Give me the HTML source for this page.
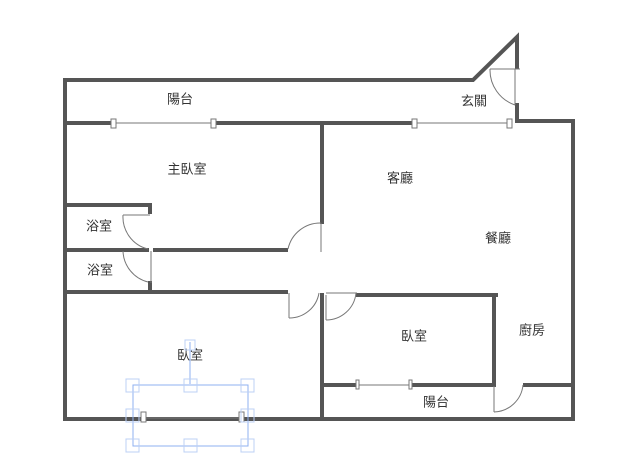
<!DOCTYPE html>
<html><head><meta charset="utf-8"><style>
html,body{margin:0;padding:0;background:#fff;}
svg{display:block}
text{font-family:"Liberation Sans","Noto Sans CJK TC",sans-serif;font-size:13px;fill:#333;text-anchor:middle;dominant-baseline:middle}
</style></head><body>
<svg width="640" height="461" viewBox="0 0 640 461">
<g stroke="#555" stroke-width="4" fill="none" stroke-linecap="square">
<!-- outer -->
<polyline points="65,419 65,80 473,80 517,37 517,67"/>
<polyline points="517,105 517,121 573,121 573,419 65,419"/>
<!-- balcony divider -->
<line x1="69" y1="123" x2="113" y2="123"/>
<line x1="215" y1="123" x2="413" y2="123"/>
<!-- vertical center -->
<line x1="322" y1="123" x2="322" y2="222"/>
<line x1="322" y1="295" x2="322" y2="419"/>
<!-- baths -->
<polyline points="65,205 150,205 150,212"/>
<line x1="65" y1="250" x2="147" y2="250"/>
<line x1="155" y1="250" x2="286" y2="250"/>
<line x1="65" y1="292" x2="286" y2="292"/>
<line x1="150" y1="283" x2="150" y2="292"/>
<!-- bedroom2 -->
<line x1="358" y1="295" x2="496" y2="295"/>
<line x1="494" y1="295" x2="494" y2="385"/>
<line x1="322" y1="385" x2="356" y2="385"/>
<line x1="412" y1="385" x2="492" y2="385"/>
<line x1="525" y1="385" x2="573" y2="385"/>
</g>
<g stroke="#777" stroke-width="1" fill="#fff">
<!-- windows -->
<line x1="113" y1="123" x2="215" y2="123"/>
<rect x="111" y="119" width="5" height="9"/><rect x="211" y="119" width="5" height="9"/>
<line x1="413" y1="123" x2="512" y2="123"/>
<rect x="412" y="119" width="5" height="9"/><rect x="507" y="119" width="5" height="9"/>
<line x1="356" y1="385" x2="412" y2="385"/>
<rect x="356" y="380" width="3" height="9"/><rect x="409" y="380" width="3" height="9"/>
<line x1="143" y1="418" x2="243" y2="418"/>
<rect x="141" y="412" width="5" height="10"/><rect x="239" y="412" width="5" height="10"/>
<!-- doors -->
<g fill="none">
<path d="M490,69 A37,37 0 0 0 515,105"/><line x1="490" y1="69" x2="520" y2="69"/><line x1="515" y1="69" x2="515" y2="105"/>
<path d="M288,249 A33,33 0 0 1 321,223"/><line x1="321" y1="223" x2="321" y2="252"/>
<path d="M123,215 A33,33 0 0 0 148,249"/><line x1="123" y1="215" x2="150" y2="215"/>
<path d="M123,251 A33,33 0 0 0 148,282"/><line x1="151" y1="251" x2="151" y2="283"/>
<path d="M289,318 A30,30 0 0 0 319,293"/><line x1="289" y1="293" x2="289" y2="318"/>
<path d="M326,320 A30,30 0 0 0 356,293"/><line x1="326" y1="295" x2="326" y2="320"/><line x1="326" y1="293" x2="357" y2="293"/>
<path d="M494,412 A30,30 0 0 0 523,385"/><line x1="494" y1="386" x2="494" y2="412"/>
</g>
</g>
<g>
<text x="180" y="100">陽台</text>
<text x="474" y="102">玄關</text>
<text x="187" y="170">主臥室</text>
<text x="400" y="179">客廳</text>
<text x="99" y="227">浴室</text>
<text x="100" y="271">浴室</text>
<text x="498" y="239">餐廳</text>
<text x="414" y="337">臥室</text>
<text x="532" y="331">廚房</text>
<text x="190" y="356">臥室</text>
<text x="436" y="403">陽台</text>
</g>
<!-- selection -->
<g stroke="#8fb0f0" stroke-width="1" fill="none">
<line x1="190" y1="342" x2="190" y2="384"/>
<rect x="133" y="385" width="115" height="61"/>
<rect x="185" y="340" width="10" height="10" stroke="#bcd0f5"/>
<rect x="126" y="379" width="13" height="13" stroke="#bcd0f5"/><rect x="184" y="379" width="13" height="13" stroke="#bcd0f5"/><rect x="241" y="379" width="13" height="13" stroke="#bcd0f5"/>
<rect x="126" y="409" width="13" height="13" stroke="#bcd0f5"/><rect x="241" y="409" width="13" height="13" stroke="#bcd0f5"/>
<rect x="126" y="439" width="13" height="13" stroke="#bcd0f5"/><rect x="184" y="439" width="13" height="13" stroke="#bcd0f5"/><rect x="241" y="439" width="13" height="13" stroke="#bcd0f5"/>
</g>
</svg>
</body></html>
